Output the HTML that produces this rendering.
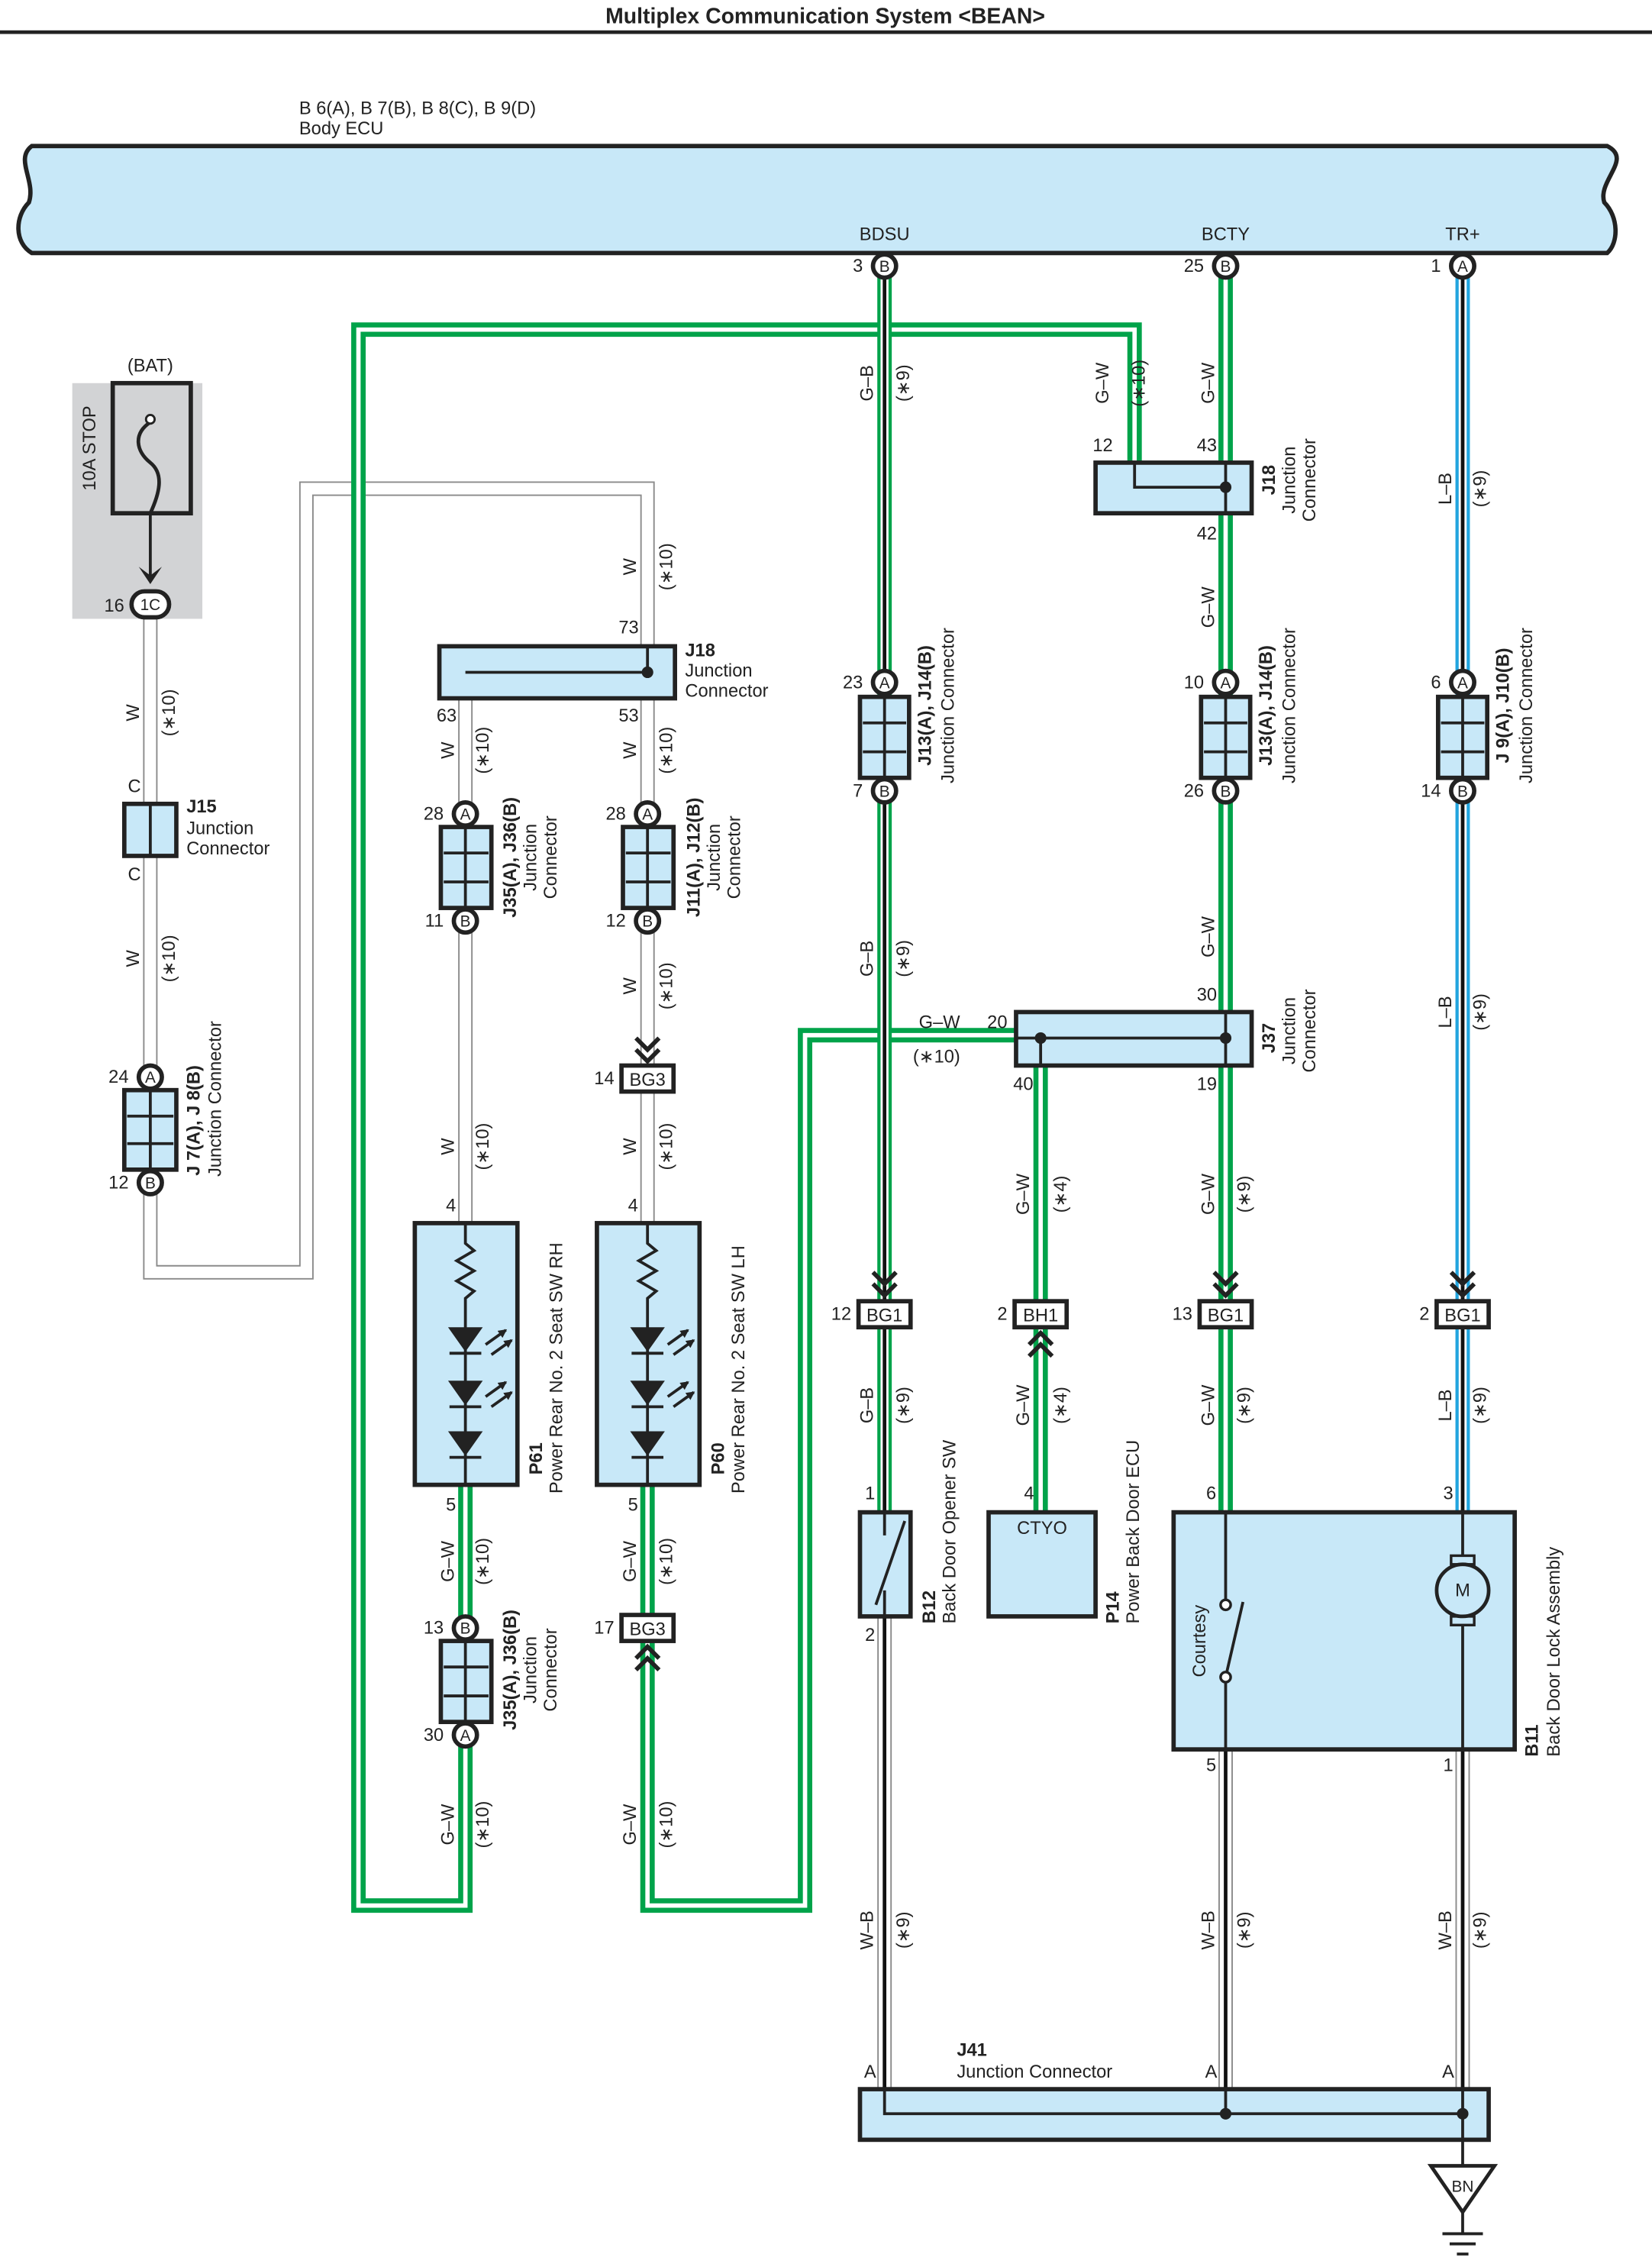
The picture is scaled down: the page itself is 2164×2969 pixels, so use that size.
<!DOCTYPE html>
<html><head><meta charset="utf-8"><style>
html,body{margin:0;padding:0;background:#fff}
svg{display:block}
text{font-family:"Liberation Sans",sans-serif;font-size:12.5px;fill:#222}
.b{font-weight:bold}
.g1{fill:none;stroke:#00a34a;stroke-width:10}
.g2{fill:none;stroke:#fff;stroke-width:3}
.k2{fill:none;stroke:#fff;stroke-width:5.5}
.k3{fill:none;stroke:#111;stroke-width:2.5}
.l1{fill:none;stroke:#22a5df;stroke-width:10}
.w1{fill:none;stroke:#8a8a8a;stroke-width:10}
.w2{fill:none;stroke:#fff;stroke-width:8}
.box{fill:#c8e8f8;stroke:#222;stroke-width:3}
.ln{fill:none;stroke:#222;stroke-width:2}
.pin{fill:#fff;stroke:#222;stroke-width:3}
</style></head><body>
<svg width="2164" height="2969" viewBox="0 0 1143 1568" preserveAspectRatio="none" xmlns="http://www.w3.org/2000/svg">
<defs><marker id="ah" markerWidth="6" markerHeight="6" refX="5" refY="3" orient="auto" markerUnits="userSpaceOnUse"><path d="M0,0 L6,3 L0,6 Z" fill="#222"/></marker></defs>
<text x="571" y="16" text-anchor="middle" class="b" style="font-size:15px">Multiplex Communication System &lt;BEAN&gt;</text>
<rect x="0" y="21" width="1143" height="2.5" fill="#222"/>
<text x="207" y="79">B 6(A), B 7(B), B 8(C), B 9(D)</text>
<text x="207" y="93">Body ECU</text>
<path class="box" d="M22,101 L1112,101 C1130,110 1105,125 1110,140 C1120,150 1120,168 1112,175 L22,175 C10,168 10,150 20,140 C25,125 10,110 22,101 Z"/>
<text x="612" y="166" text-anchor="middle">BDSU</text>
<text x="848" y="166" text-anchor="middle">BCTY</text>
<text x="1012" y="166" text-anchor="middle">TR+</text>

<path class="w1" d="M104,428 V880 H212 V338 H448 V845"/>
<path class="w2" d="M104,428 V880 H212 V338 H448 V845"/>
<path class="w1" d="M322,483 V845"/><path class="w2" d="M322,483 V845"/>

<path class="g1" d="M785,320 V228 H248 V1318 H322 V1027"/>
<path class="g2" d="M785,320 V228 H248 V1318 H322 V1027"/>
<path class="g1" d="M703,716 H557 V1318 H448 V1027"/>
<path class="g2" d="M703,716 H557 V1318 H448 V1027"/>
<path class="g1" d="M848,184 V1046"/><path class="g2" d="M848,184 V1046"/>
<path class="g1" d="M720,737 V1046"/><path class="g2" d="M720,737 V1046"/>
<path class="g1" d="M612,184 V1046"/><path class="k2" d="M612,184 V1046"/><path class="k3" d="M612,184 V1046"/>
<path class="l1" d="M1012,184 V1046"/><path class="k2" d="M1012,184 V1046"/><path class="k3" d="M1012,184 V1046"/>
<path class="w1" d="M612,1118 V1445 M848,1210 V1445 M1012,1210 V1445"/>
<path class="w2" d="M612,1118 V1445 M848,1210 V1445 M1012,1210 V1445"/>
<path class="k3" d="M612,1118 V1445 M848,1210 V1445 M1012,1210 V1445"/>

<circle class="pin" cx="612" cy="184" r="8"/><text x="612" y="188" text-anchor="middle" style="font-size:11px">B</text><text x="597" y="188" text-anchor="end">3</text>
<circle class="pin" cx="848" cy="184" r="8"/><text x="848" y="188" text-anchor="middle" style="font-size:11px">B</text><text x="833" y="188" text-anchor="end">25</text>
<circle class="pin" cx="1012" cy="184" r="8"/><text x="1012" y="188" text-anchor="middle" style="font-size:11px">A</text><text x="997" y="188" text-anchor="end">1</text>

<rect x="50" y="265" width="90" height="163" fill="#d2d3d5"/>
<rect x="78" y="265" width="54" height="90" fill="#d2d3d5" stroke="#222" stroke-width="3"/>
<path class="ln" style="stroke-width:2.5" d="M104,292 C92,300 94,312 104,320 C114,328 110,342 104,355"/><circle cx="104" cy="290" r="3" fill="#fff" stroke="#222" stroke-width="1.5"/>
<path class="ln" d="M104,355 V400"/><path d="M96,392 L104,404 L112,392 L104,398 Z" fill="#222"/>
<text x="104" y="257" text-anchor="middle">(BAT)</text>
<text transform="translate(66,310) rotate(-90)" text-anchor="middle">10A STOP</text>
<rect x="91" y="409" width="26" height="18" rx="9" class="pin"/><text x="104" y="422" text-anchor="middle" style="font-size:11px">1C</text><text x="86" y="423" text-anchor="end">16</text>

<rect x="86" y="556" width="36" height="36" class="box"/><path class="ln" d="M104,556 V592"/>
<text x="93" y="548" text-anchor="middle">C</text><text x="93" y="609" text-anchor="middle">C</text>
<text x="129" y="562" class="b">J15</text><text x="129" y="577">Junction</text><text x="129" y="591">Connector</text>

<rect x="86" y="754" width="36" height="55" class="box"/><path class="ln" d="M104,754 V809 M88,772 H120 M88,791 H120"/>
<circle class="pin" cx="104" cy="745" r="8"/><text x="104" y="749" text-anchor="middle" style="font-size:11px">A</text><text x="89" y="749" text-anchor="end">24</text>
<circle class="pin" cx="104" cy="818" r="8"/><text x="104" y="822" text-anchor="middle" style="font-size:11px">B</text><text x="89" y="822" text-anchor="end">12</text>
<text transform="translate(138,775) rotate(-90)" text-anchor="middle" class="b">J 7(A), J 8(B)</text>
<text transform="translate(153,760) rotate(-90)" text-anchor="middle">Junction Connector</text>

<rect x="304" y="447" width="163" height="36" class="box"/><path class="ln" d="M448,447 V465 H322"/><circle cx="448" cy="465" r="4" fill="#222"/>
<text x="435" y="438" text-anchor="middle">73</text><text x="309" y="499" text-anchor="middle">63</text><text x="435" y="499" text-anchor="middle">53</text>
<text x="474" y="454" class="b">J18</text><text x="474" y="468">Junction</text><text x="474" y="482">Connector</text>

<g>
<rect x="305" y="572" width="35" height="56" class="box"/><path class="ln" d="M322,572 V628 M307,590 H338 M307,610 H338"/>
<circle class="pin" cx="322" cy="563" r="8"/><text x="322" y="567" text-anchor="middle" style="font-size:11px">A</text><text x="307" y="567" text-anchor="end">28</text>
<circle class="pin" cx="322" cy="637" r="8"/><text x="322" y="641" text-anchor="middle" style="font-size:11px">B</text><text x="307" y="641" text-anchor="end">11</text>
<rect x="431" y="572" width="35" height="56" class="box"/><path class="ln" d="M448,572 V628 M433,590 H464 M433,610 H464"/>
<circle class="pin" cx="448" cy="563" r="8"/><text x="448" y="567" text-anchor="middle" style="font-size:11px">A</text><text x="433" y="567" text-anchor="end">28</text>
<circle class="pin" cx="448" cy="637" r="8"/><text x="448" y="641" text-anchor="middle" style="font-size:11px">B</text><text x="433" y="641" text-anchor="end">12</text>
</g>
<text transform="translate(357,593) rotate(-90)" text-anchor="middle" class="b">J35(A), J36(B)</text>
<text transform="translate(371,593) rotate(-90)" text-anchor="middle">Junction</text>
<text transform="translate(385,593) rotate(-90)" text-anchor="middle">Connector</text>
<text transform="translate(484,593) rotate(-90)" text-anchor="middle" class="b">J11(A), J12(B)</text>
<text transform="translate(498,593) rotate(-90)" text-anchor="middle">Junction</text>
<text transform="translate(512,593) rotate(-90)" text-anchor="middle">Connector</text>

<path d="M440,718 L448,726 L456,718 M440,726 L448,734 L456,726" class="ln" style="stroke-width:3"/>
<rect x="430" y="737" width="36" height="18" fill="#fff" stroke="#222" stroke-width="3"/><text x="448" y="751" text-anchor="middle">BG3</text><text x="425" y="750" text-anchor="end">14</text>
<text x="312" y="838" text-anchor="middle">4</text><text x="438" y="838" text-anchor="middle">4</text>

<g id="led">
<rect x="287" y="846" width="71" height="181" class="box"/>
<path class="ln" d="M322,846 V860 L328,865 L316,872 L328,879 L316,886 L328,893 L322,898 V1027"/>
<path d="M310,918 H334 L322,935 Z M310,955 H334 L322,972 Z M310,990 H334 L322,1007 Z" fill="#222"/>
<path class="ln" d="M311,936 H333 M311,973 H333 M311,1008 H333"/>
<path class="ln" marker-end="url(#ah)" d="M336,930 L350,920"/><path class="ln" marker-end="url(#ah)" d="M340,937 L354,927"/>
<path class="ln" marker-end="url(#ah)" d="M336,966 L350,956"/><path class="ln" marker-end="url(#ah)" d="M340,973 L354,963"/>
</g>
<use href="#led" transform="translate(126,0)"/>
<text transform="translate(375,1020) rotate(-90)" class="b">P61</text>
<text transform="translate(389,1033) rotate(-90)">Power Rear No. 2 Seat SW RH</text>
<text transform="translate(501,1020) rotate(-90)" class="b">P60</text>
<text transform="translate(515,1033) rotate(-90)">Power Rear No. 2 Seat SW LH</text>
<text x="312" y="1045" text-anchor="middle">5</text><text x="438" y="1045" text-anchor="middle">5</text>

<rect x="305" y="1135" width="35" height="56" class="box"/><path class="ln" d="M322,1135 V1191 M307,1153 H338 M307,1173 H338"/>
<circle class="pin" cx="322" cy="1126" r="8"/><text x="322" y="1130" text-anchor="middle" style="font-size:11px">B</text><text x="307" y="1130" text-anchor="end">13</text>
<circle class="pin" cx="322" cy="1200" r="8"/><text x="322" y="1204" text-anchor="middle" style="font-size:11px">A</text><text x="307" y="1204" text-anchor="end">30</text>
<text transform="translate(357,1155) rotate(-90)" text-anchor="middle" class="b">J35(A), J36(B)</text>
<text transform="translate(371,1155) rotate(-90)" text-anchor="middle">Junction</text>
<text transform="translate(385,1155) rotate(-90)" text-anchor="middle">Connector</text>
<rect x="430" y="1117" width="36" height="18" fill="#fff" stroke="#222" stroke-width="3"/><text x="448" y="1131" text-anchor="middle">BG3</text><text x="425" y="1130" text-anchor="end">17</text>
<path d="M440,1147 L448,1139 L456,1147 M440,1155 L448,1147 L456,1155" class="ln" style="stroke-width:3"/>

<rect x="758" y="320" width="108" height="35" class="box"/><path class="ln" d="M785,320 V337 H848 V320 M848,337 V355"/><circle cx="848" cy="337" r="4" fill="#222"/>
<text x="763" y="312" text-anchor="middle">12</text><text x="835" y="312" text-anchor="middle">43</text><text x="835" y="373" text-anchor="middle">42</text>
<text transform="translate(882,332) rotate(-90)" text-anchor="middle" class="b">J18</text>
<text transform="translate(896,332) rotate(-90)" text-anchor="middle">Junction</text>
<text transform="translate(910,332) rotate(-90)" text-anchor="middle">Connector</text>

<g id="j13">
<rect x="595" y="482" width="34" height="56" class="box"/><path class="ln" d="M612,482 V538 M597,500 H627 M597,520 H627"/>
<circle class="pin" cx="612" cy="472" r="8"/><text x="612" y="476" text-anchor="middle" style="font-size:11px">A</text>
<circle class="pin" cx="612" cy="547" r="8"/><text x="612" y="551" text-anchor="middle" style="font-size:11px">B</text>
</g>
<use href="#j13" transform="translate(236,0)"/><use href="#j13" transform="translate(400,0)"/>
<text x="597" y="476" text-anchor="end">23</text><text x="597" y="551" text-anchor="end">7</text>
<text x="833" y="476" text-anchor="end">10</text><text x="833" y="551" text-anchor="end">26</text>
<text x="997" y="476" text-anchor="end">6</text><text x="997" y="551" text-anchor="end">14</text>
<text transform="translate(644,488) rotate(-90)" text-anchor="middle" class="b">J13(A), J14(B)</text>
<text transform="translate(660,488) rotate(-90)" text-anchor="middle">Junction Connector</text>
<text transform="translate(880,488) rotate(-90)" text-anchor="middle" class="b">J13(A), J14(B)</text>
<text transform="translate(896,488) rotate(-90)" text-anchor="middle">Junction Connector</text>
<text transform="translate(1044,488) rotate(-90)" text-anchor="middle" class="b">J 9(A), J10(B)</text>
<text transform="translate(1060,488) rotate(-90)" text-anchor="middle">Junction Connector</text>

<rect x="703" y="700" width="163" height="37" class="box"/><path class="ln" d="M703,718 H848 M720,718 V737 M848,700 V737"/><circle cx="720" cy="718" r="4" fill="#222"/><circle cx="848" cy="718" r="4" fill="#222"/>
<text x="690" y="711" text-anchor="middle">20</text><text x="835" y="692" text-anchor="middle">30</text><text x="708" y="754" text-anchor="middle">40</text><text x="835" y="754" text-anchor="middle">19</text>
<text x="650" y="711" text-anchor="middle">G–W</text><text x="648" y="735" text-anchor="middle">(∗10)</text>
<text transform="translate(882,718) rotate(-90)" text-anchor="middle" class="b">J37</text>
<text transform="translate(896,713) rotate(-90)" text-anchor="middle">Junction</text>
<text transform="translate(910,713) rotate(-90)" text-anchor="middle">Connector</text>

<g id="bg1">
<path d="M604,880 L612,888 L620,880 M604,888 L612,896 L620,888" class="ln" style="stroke-width:3"/>
<rect x="594" y="900" width="36" height="18" fill="#fff" stroke="#222" stroke-width="3"/><text x="612" y="914" text-anchor="middle">BG1</text>
</g>
<use href="#bg1" transform="translate(236,0)"/><use href="#bg1" transform="translate(400,0)"/>
<text x="589" y="913" text-anchor="end">12</text><text x="825" y="913" text-anchor="end">13</text><text x="989" y="913" text-anchor="end">2</text>
<rect x="702" y="900" width="36" height="18" fill="#fff" stroke="#222" stroke-width="3"/><text x="720" y="914" text-anchor="middle">BH1</text><text x="697" y="913" text-anchor="end">2</text>
<path d="M712,930 L720,922 L728,930 M712,938 L720,930 L728,938" class="ln" style="stroke-width:3"/>

<rect x="595" y="1046" width="35" height="72" class="box"/><path class="ln" d="M612,1046 V1062 M612,1100 V1118"/>
<path class="ln" d="M606,1110 L626,1052"/>
<text x="602" y="1037" text-anchor="middle">1</text><text x="602" y="1135" text-anchor="middle">2</text>
<text transform="translate(647,1123) rotate(-90)" class="b">B12</text>
<text transform="translate(661,1123) rotate(-90)">Back Door Opener SW</text>

<rect x="684" y="1046" width="74" height="72" class="box"/><text x="721" y="1061" text-anchor="middle">CTYO</text>
<text x="712" y="1037" text-anchor="middle">4</text>
<text transform="translate(774,1123) rotate(-90)" class="b">P14</text>
<text transform="translate(788,1123) rotate(-90)">Power Back Door ECU</text>

<rect x="812" y="1046" width="236" height="164" class="box"/>
<path class="ln" d="M848,1046 V1107 M848,1163 V1210 M848,1160 L860,1108"/>
<circle cx="848" cy="1110" r="3.5" fill="#fff" stroke="#222" stroke-width="1.8"/><circle cx="848" cy="1160" r="3.5" fill="#fff" stroke="#222" stroke-width="1.8"/>
<text transform="translate(834,1135) rotate(-90)" text-anchor="middle">Courtesy</text>
<path class="ln" d="M1012,1046 V1076 M1012,1124 V1210"/>
<rect x="1004" y="1076" width="16" height="6" fill="#c8e8f8" stroke="#222" stroke-width="1.8"/>
<rect x="1004" y="1118" width="16" height="6" fill="#c8e8f8" stroke="#222" stroke-width="1.8"/>
<circle cx="1012" cy="1100" r="18" fill="#c8e8f8" stroke="#222" stroke-width="2.5"/><text x="1012" y="1104" text-anchor="middle">M</text>
<text x="838" y="1037" text-anchor="middle">6</text><text x="1002" y="1037" text-anchor="middle">3</text>
<text x="838" y="1225" text-anchor="middle">5</text><text x="1002" y="1225" text-anchor="middle">1</text>
<text transform="translate(1064,1215) rotate(-90)" class="b">B11</text>
<text transform="translate(1079,1215) rotate(-90)">Back Door Lock Assembly</text>

<rect x="595" y="1445" width="435" height="35" class="box"/><path class="ln" d="M612,1445 V1462 H1012 M848,1445 V1462 M1012,1445 V1480"/>
<circle cx="848" cy="1462" r="4" fill="#222"/><circle cx="1012" cy="1462" r="4" fill="#222"/>
<text x="602" y="1437" text-anchor="middle">A</text><text x="838" y="1437" text-anchor="middle">A</text><text x="1002" y="1437" text-anchor="middle">A</text>
<text x="662" y="1422" class="b">J41</text><text x="662" y="1437">Junction Connector</text>
<path class="ln" d="M1012,1480 V1498"/>
<path d="M990,1498 H1034 L1012,1530 Z" fill="#fff" stroke="#222" stroke-width="2.5"/><text x="1012" y="1516" text-anchor="middle" style="font-size:11px">BN</text>
<path class="ln" d="M1012,1530 V1545 M998,1545 H1026 M1003,1552 H1021 M1008,1559 H1016"/>

<g text-anchor="middle">
<text transform="translate(604,265) rotate(-90)">G–B</text><text transform="translate(629,265) rotate(-90)">(∗9)</text>
<text transform="translate(767,265) rotate(-90)">G–W</text><text transform="translate(792,265) rotate(-90)">(∗10)</text>
<text transform="translate(840,265) rotate(-90)">G–W</text>
<text transform="translate(1004,338) rotate(-90)">L–B</text><text transform="translate(1028,338) rotate(-90)">(∗9)</text>
<text transform="translate(440,392) rotate(-90)">W</text><text transform="translate(465,392) rotate(-90)">(∗10)</text>
<text transform="translate(840,420) rotate(-90)">G–W</text>
<text transform="translate(96,493) rotate(-90)">W</text><text transform="translate(121,493) rotate(-90)">(∗10)</text>
<text transform="translate(96,663) rotate(-90)">W</text><text transform="translate(121,663) rotate(-90)">(∗10)</text>
<text transform="translate(314,519) rotate(-90)">W</text><text transform="translate(338,519) rotate(-90)">(∗10)</text>
<text transform="translate(440,519) rotate(-90)">W</text><text transform="translate(465,519) rotate(-90)">(∗10)</text>
<text transform="translate(440,682) rotate(-90)">W</text><text transform="translate(465,682) rotate(-90)">(∗10)</text>
<text transform="translate(314,793) rotate(-90)">W</text><text transform="translate(338,793) rotate(-90)">(∗10)</text>
<text transform="translate(440,793) rotate(-90)">W</text><text transform="translate(465,793) rotate(-90)">(∗10)</text>
<text transform="translate(604,663) rotate(-90)">G–B</text><text transform="translate(629,663) rotate(-90)">(∗9)</text>
<text transform="translate(840,648) rotate(-90)">G–W</text>
<text transform="translate(1004,700) rotate(-90)">L–B</text><text transform="translate(1028,700) rotate(-90)">(∗9)</text>
<text transform="translate(712,826) rotate(-90)">G–W</text><text transform="translate(738,826) rotate(-90)">(∗4)</text>
<text transform="translate(840,826) rotate(-90)">G–W</text><text transform="translate(865,826) rotate(-90)">(∗9)</text>
<text transform="translate(604,972) rotate(-90)">G–B</text><text transform="translate(629,972) rotate(-90)">(∗9)</text>
<text transform="translate(712,972) rotate(-90)">G–W</text><text transform="translate(738,972) rotate(-90)">(∗4)</text>
<text transform="translate(840,972) rotate(-90)">G–W</text><text transform="translate(865,972) rotate(-90)">(∗9)</text>
<text transform="translate(1004,972) rotate(-90)">L–B</text><text transform="translate(1028,972) rotate(-90)">(∗9)</text>
<text transform="translate(314,1080) rotate(-90)">G–W</text><text transform="translate(338,1080) rotate(-90)">(∗10)</text>
<text transform="translate(440,1080) rotate(-90)">G–W</text><text transform="translate(465,1080) rotate(-90)">(∗10)</text>
<text transform="translate(314,1262) rotate(-90)">G–W</text><text transform="translate(338,1262) rotate(-90)">(∗10)</text>
<text transform="translate(440,1262) rotate(-90)">G–W</text><text transform="translate(465,1262) rotate(-90)">(∗10)</text>
<text transform="translate(604,1335) rotate(-90)">W–B</text><text transform="translate(629,1335) rotate(-90)">(∗9)</text>
<text transform="translate(840,1335) rotate(-90)">W–B</text><text transform="translate(865,1335) rotate(-90)">(∗9)</text>
<text transform="translate(1004,1335) rotate(-90)">W–B</text><text transform="translate(1028,1335) rotate(-90)">(∗9)</text>
</g>
</svg>
</body></html>
